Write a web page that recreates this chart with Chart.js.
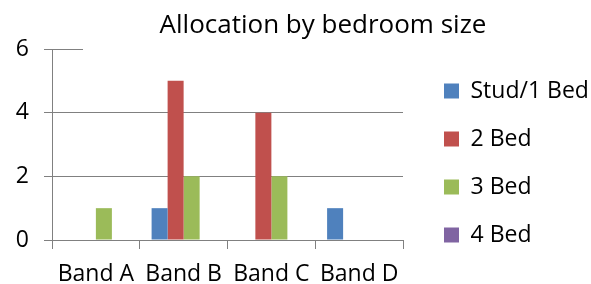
<!DOCTYPE html>
<html>
<head>
<meta charset="utf-8">
<script src="https://cdn.jsdelivr.net/npm/chart.js@4.4.1/dist/chart.umd.min.js"></script>
<style>
  html, body { margin: 0; padding: 0; background: #fff; }
  #wrap { width: 591px; height: 284px; }
  canvas { display: block; }
</style>
</head>
<body>
<div id="wrap"><canvas id="bedroomChart" width="591" height="284"></canvas></div>
<script>
const chartTitle = 'Allocation by bedroom size';
const bands = ['Band A', 'Band B', 'Band C', 'Band D'];
const seriesNames = ['Stud/1 Bed', '2 Bed', '3 Bed', '4 Bed'];
const studio1Bed = [0, 1, 0, 1];
const twoBed = [0, 5, 4, 0];
const threeBed = [1, 2, 2, 0];
const fourBed = [0, 0, 0, 0];
const yTicks = [0, 2, 4, 6];

const seriesColors = ['#4F81BD', '#C0504D', '#9BBB59', '#8064A2'];
const gridGrey = '#808080';

// excel style title: sits on a white box that hides the top gridline
const boxedTitle = {
    id: 'boxedTitle',
    beforeDatasetsDraw(chart) {
        const ctx = chart.ctx;
        ctx.save();
        ctx.fillStyle = '#ffffff';
        ctx.fillRect(83, 0, 420, 52);
        ctx.fillStyle = '#000000';
        ctx.font = "26px 'Open Sans'";
        ctx.textAlign = 'center';
        ctx.textBaseline = 'alphabetic';
        ctx.fillText(chartTitle, 323, 33);
        ctx.restore();
    }
};

Chart.defaults.font.family = "'Open Sans', sans-serif";
Chart.defaults.font.size = 23;
Chart.defaults.color = '#000000';

const series = [studio1Bed, twoBed, threeBed, fourBed];

// blank spacer axis, only there to push the plot area around
const spacer = (pos, size) => ({
    type: 'linear',
    position: pos,
    grid: { display: false },
    border: { display: false },
    ticks: { display: false },
    afterFit: s => {
        if (pos === 'top') s.height = size; else s.width = size;
    }
});

new Chart(document.getElementById('bedroomChart'), {
    type: 'bar',
    data: {
        labels: bands,
        datasets: series.map((vals, i) => ({
            label: seriesNames[i],
            data: vals,
            backgroundColor: seriesColors[i],
            borderWidth: 0,
            categoryPercentage: 0.73,
            barPercentage: 1.0
        }))
    },
    options: {
        responsive: false,
        animation: false,
        devicePixelRatio: 1,
        layout: { padding: { top: 42, left: 0, right: 0, bottom: 0 } },
        scales: {
            x: {
                grid: {
                    offset: true,
                    drawOnChartArea: false,
                    drawTicks: true,
                    tickLength: 9,
                    color: gridGrey
                },
                border: { display: true, color: gridGrey },
                ticks: { padding: 12 },
                afterFit: s => { s.height = 44; }
            },
            y: {
                min: 0,
                max: 6,
                afterBuildTicks: s => { s.ticks = yTicks.map(v => ({ value: v })); },
                grid: { color: gridGrey, tickLength: 8 },
                border: { display: true, color: gridGrey },
                ticks: { padding: 15 },
                afterFit: s => { s.width = 52; }
            },
            gapTop: spacer('top', 7),
            gapRight: spacer('right', 16)
        },
        plugins: {
            title: { display: false },
            tooltip: { enabled: false },
            legend: {
                position: 'right',
                maxWidth: 172,
                labels: {
                    boxWidth: 15,
                    boxHeight: 15,
                    padding: 25,
                    color: '#000000',
                    font: { size: 23 }
                }
            }
        }
    },
    plugins: [boxedTitle]
});
</script>
</body>
</html>
